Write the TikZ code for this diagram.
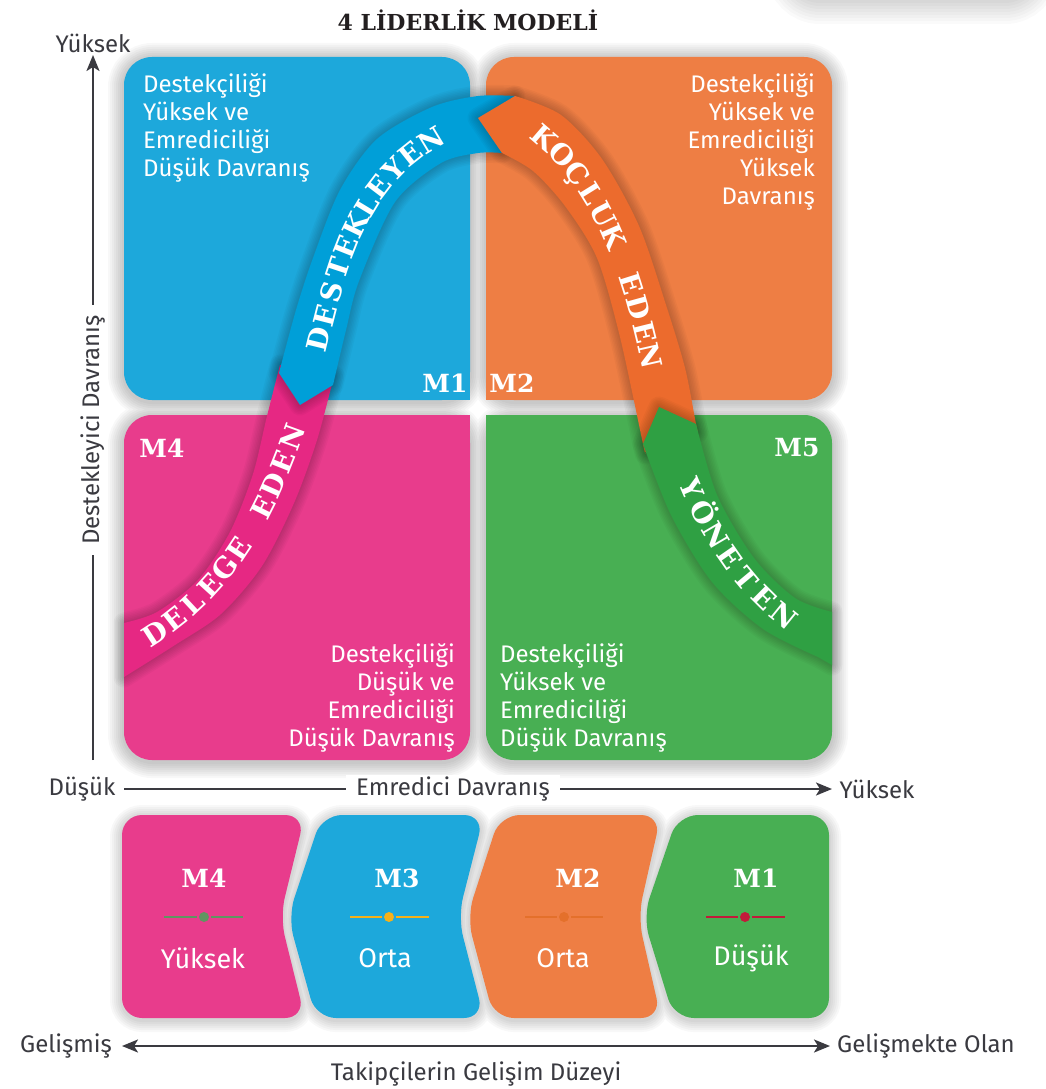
\documentclass[tikz,border=0pt]{standalone}
\usepackage{fontspec}
\setmainfont{Fira Sans}
\newfontfamily\slab{DejaVu Serif}
\usepackage{tikz}
\usetikzlibrary{arrows.meta,positioning}

\definecolor{qblue}{HTML}{1DA8DB}
\definecolor{qorange}{HTML}{EE7E44}
\definecolor{qpink}{HTML}{E83C8C}
\definecolor{qgreen}{HTML}{48AF53}
\definecolor{rblue}{HTML}{009FD8}
\definecolor{rorange}{HTML}{EC6B2D}
\definecolor{rpink}{HTML}{E62883}
\definecolor{rgreen}{HTML}{2FA043}
\definecolor{axisgray}{HTML}{3A3A40}
\definecolor{titlegray}{HTML}{231F20}
\definecolor{dgreen}{HTML}{5F9561}
\definecolor{dyellow}{HTML}{F6B118}
\definecolor{dorange}{HTML}{E4702B}
\definecolor{dred}{HTML}{C21A3A}

\newcommand\ribbonfont{\slab\bfseries\fontsize{28}{28}\selectfont}
\newcommand\pinkband{plot[smooth] coordinates {(124,623) (157,612) (198,580) (230,532) (253,474) (267,416) (280,365)} -- plot[smooth] coordinates {(334,376) (317,440) (294,503) (262,566) (221,614) (175,645) (124,677)} -- cycle}
\newcommand\blueband{(300,405) -- plot[smooth] coordinates {(279,373) (296,310) (313,258) (340,190) (377,139) (432,107) (478,96) (515,96)} -- plot[smooth] coordinates {(502,153) (478,153) (441,163) (395,202) (359,281) (346,330) (333,385)} -- cycle}
\newcommand\orangeband{(478,118) -- plot[smooth] coordinates {(515,96) (561,115) (602,159) (639,226) (666,305) (685,368) (696,424) (698,432)} -- plot[smooth] coordinates {(645,452) (643,444) (620,337) (597,258) (565,206) (533,171) (502,153)} -- cycle}
\newcommand\greenband{(659,407) -- plot[smooth] coordinates {(696,424) (717,495) (754,558) (795,598) (832,612)} -- (832,665) -- plot[smooth] coordinates {(818,657) (763,629) (712,582) (671,515) (643,444)} -- cycle}

\begin{document}
\begin{tikzpicture}[x=1pt, y=-1pt, every node/.style={inner sep=0pt},
    halo/.style={draw=black, opacity=0.028},
    body/.style={text=white, font=\fontsize{24}{28}\selectfont},
    tag/.style={text=white, font=\slab\bfseries\fontsize{25}{25}\selectfont},
    level/.style={text=white, font=\fontsize{27}{27}\selectfont},
    axis/.style={draw=axisgray, line width=2.2pt},
    axtext/.style={text=axisgray, font=\fontsize{24}{24}\selectfont},
    tip/.style={-{Stealth[length=16pt,width=13pt,inset=4pt]}},
    rl/.style={text=white, font=\ribbonfont, sloped, anchor=center, text height=20pt, text depth=0pt}]

    \useasboundingbox[fill=white] (0,0) rectangle (1046,1089);
    \foreach \w in {6,12,...,48}
        \draw[halo, opacity=0.02, line width=\w pt, rounded corners=30pt] (790,-120) rectangle (1035,0);
    \fill[white, rounded corners=30pt] (790,-120) rectangle (1035,0);

    \node[font=\slab\bfseries\fontsize{22}{22}\selectfont, text=titlegray] (title) at (468,20) {4 LİDERLİK MODELİ};

    \foreach \w in {4,8,...,32}
        \draw[halo, line width=\w pt, rounded corners=28pt] (124,59) rectangle (470,402) (486,59) rectangle (832,402) (124,417) rectangle (470,762) (486,417) rectangle (832,762);
    \fill[qblue, rounded corners=28pt] (124,57) rectangle (470,400);
    \fill[qorange, rounded corners=28pt] (486,57) rectangle (832,400);
    \fill[qpink, rounded corners=28pt] (124,415) rectangle (470,760);
    \fill[qgreen, rounded corners=28pt] (486,415) rectangle (832,760);
    \fill[qblue] (440,370) rectangle (470,400);
    \fill[qorange] (486,370) rectangle (516,400);
    \fill[qpink] (440,415) rectangle (470,445);
    \fill[qgreen] (486,415) rectangle (516,445);

    \node[body, align=left, anchor=north west] (q1) at (143,73) {Destekçiliği\\Yüksek ve\\Emrediciliği\\Düşük Davranış};
    \node[body, align=right, anchor=north east] (q2) at (815,73) {Destekçiliği\\Yüksek ve\\Emrediciliği\\Yüksek\\Davranış};
    \node[body, align=right, anchor=north east] (q4) at (455,643) {Destekçiliği\\Düşük ve\\Emrediciliği\\Düşük Davranış};
    \node[body, align=left, anchor=north west] (q5) at (500,643) {Destekçiliği\\Yüksek ve\\Emrediciliği\\Düşük Davranış};
    \node[tag] (m1) at (445,383) {M1};
    \node[tag] (m2) at (512,383) {M2};
    \node[tag] (m4) at (162,448) {M4};
    \node[tag] (m5) at (797,448) {M5};

    \foreach \w in {3,6,...,21}
        \draw[halo, line width=\w pt, line join=round] \pinkband;
    \fill[rpink] \pinkband;
    \foreach \w in {3,6,...,21}
        \draw[halo, line width=\w pt, line join=round] \blueband;
    \fill[rblue] \blueband;
    \foreach \w in {3,6,...,21}
        \draw[halo, line width=\w pt, line join=round] \orangeband;
    \fill[rorange] \orangeband;
    \foreach \w in {3,6,...,21}
        \draw[halo, line width=\w pt, line join=round] \greenband;
    \fill[rgreen] \greenband;

    \foreach \l [count=\i] in {D,E,L,E,G,E,{},E,D,E,N} {
        \pgfmathsetmacro\t{(\i-0.5)/11}
        \path (144,640) .. controls (225,592) and (265,517) .. (297,425) node[rl, pos=\t] (dl\i) {\l};
    }
    \foreach \l [count=\i] in {D,E,S,T,E,K,L,E,Y,E,N} {
        \pgfmathsetmacro\t{(\i-0.5)/11}
        \path (316,352) .. controls (338,261) and (358,178) .. (442,134) node[rl, pos=\t] (ds\i) {\l};
    }
    \foreach \l [count=\i] in {K,O,Ç,L,U,K,{},E,D,E,N} {
        \pgfmathsetmacro\t{(\i-0.5)/11}
        \path (535,130) .. controls (607,185) and (634,281) .. (653,368) node[rl, pos=\t] (kc\i) {\l};
    }
    \foreach \l [count=\i] in {Y,Ö,N,E,T,E,N} {
        \pgfmathsetmacro\t{(\i-0.5)/7}
        \path (687,476) .. controls (710,534) and (743,587) .. (794,624) node[rl, pos=\t] (yn\i) {\l};
    }

    \coordinate (vlo) at (93,760);
    \coordinate (vhi) at (93,55);
    \coordinate (hlo) at (124,789);
    \coordinate (hhi) at (832,789);
    \coordinate (blo) at (122,1046);
    \coordinate (bhi) at (830,1046);
    \draw[axis, tip] (vlo) -- (vhi);
    \draw[axis, tip] (hlo) -- (hhi);
    \draw[axis, {Stealth[length=16pt,width=13pt,inset=4pt]}-{Stealth[length=16pt,width=13pt,inset=4pt]}] (blo) -- (bhi);
    \node[axtext] (ytop) at (93,43) {Yüksek};
    \node[axtext, fill=white, rotate=90, inner xsep=10pt, inner ysep=2pt] (ylab) at (93,430) {Destekleyici Davranış};
    \node[axtext] (xlow) at (82,789) {Düşük};
    \node[axtext, fill=white, inner xsep=10pt, inner ysep=2pt] (xlab) at (453,789) {Emredici Davranış};
    \node[axtext] (xtop) at (877,789) {Yüksek};
    \node[axtext] (dev1) at (66,1046) {Gelişmiş};
    \node[axtext] (dev2) at (926,1046) {Gelişmekte Olan};
    \node[axtext] (devlab) at (476,1074) {Takipçilerin Gelişim Düzeyi};

    \foreach \w in {4,8,...,24}
        \draw[halo, line width=\w pt, rounded corners=20pt] (210,817) -- (305,817) -- (280,919) -- (305,1020) -- (122,1020) -- (122,817) -- cycle (400,817) -- (484,817) -- (458,919) -- (484,1020) -- (316,1020) -- (288,919) -- (322,817) -- cycle (580,817) -- (661,817) -- (638,919) -- (661,1020) -- (494,1020) -- (467,919) -- (500,817) -- cycle (750,817) -- (829,817) -- (829,1020) -- (674,1020) -- (643,919) -- (678,817) -- cycle;
    \fill[qpink, rounded corners=20pt] (210,815) -- (305,815) -- (280,917) -- (305,1018) -- (122,1018) -- (122,815) -- cycle;
    \fill[qblue, rounded corners=20pt] (400,815) -- (484,815) -- (458,917) -- (484,1018) -- (316,1018) -- (288,917) -- (322,815) -- cycle;
    \fill[qorange, rounded corners=20pt] (580,815) -- (661,815) -- (638,917) -- (661,1018) -- (494,1018) -- (467,917) -- (500,815) -- cycle;
    \fill[qgreen, rounded corners=20pt] (750,815) -- (829,815) -- (829,1018) -- (674,1018) -- (643,917) -- (678,815) -- cycle;

    \node[tag] (c4) at (204,878) {M4};
    \node[tag] (c3) at (397,878) {M3};
    \node[tag] (c2) at (578,878) {M2};
    \node[tag] (c1) at (756,878) {M1};
    \node[level] (v4) at (203,958) {Yüksek};
    \node[level] (v3) at (385,958) {Orta};
    \node[level] (v2) at (563,958) {Orta};
    \node[level] (v1) at (751,958) {Düşük};
    \draw[dgreen, line width=2pt] (164,917) -- (197,917) (211,917) -- (243,917);
    \fill[dgreen] (204,917) circle (5);
    \draw[dyellow, line width=2pt] (350,917) -- (382,917) (396,917) -- (429,917);
    \fill[dyellow] (389,917) circle (5);
    \draw[dorange, line width=2pt] (525,917) -- (557,917) (571,917) -- (603,917);
    \fill[dorange] (564,917) circle (5);
    \draw[dred, line width=2pt] (706,917) -- (738,917) (752,917) -- (785,917);
    \fill[dred] (745,917) circle (5);
\end{tikzpicture}
\end{document}
